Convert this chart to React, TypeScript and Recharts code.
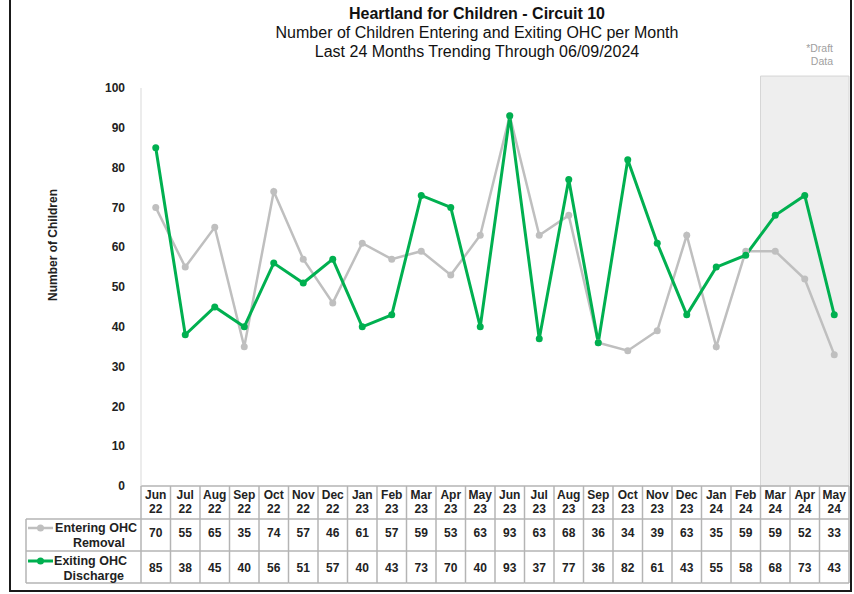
import { LineChart, Line, XAxis, YAxis, ReferenceArea } from "recharts"

const months = [
  "Jun 22", "Jul 22", "Aug 22", "Sep 22", "Oct 22", "Nov 22", "Dec 22", "Jan 23",
  "Feb 23", "Mar 23", "Apr 23", "May 23", "Jun 23", "Jul 23", "Aug 23", "Sep 23",
  "Oct 23", "Nov 23", "Dec 23", "Jan 24", "Feb 24", "Mar 24", "Apr 24", "May 24",
]
const entering = [70, 55, 65, 35, 74, 57, 46, 61, 57, 59, 53, 63, 93, 63, 68, 36, 34, 39, 63, 35, 59, 59, 52, 33]
const exiting = [85, 38, 45, 40, 56, 51, 57, 40, 43, 73, 70, 40, 93, 37, 77, 36, 82, 61, 43, 55, 58, 68, 73, 43]
const yTicks = [0, 10, 20, 30, 40, 50, 60, 70, 80, 90, 100]
const draftFrom = "Mar 24"
const draftTo = "May 24"

const data = months.map((m, i) => ({ month: m, entering: entering[i], exiting: exiting[i] }))

const W = 854
const H = 594
const PLOT_LEFT = 141
const PLOT_RIGHT = 849
const PLOT_TOP = 88
const PLOT_BOTTOM = 486
const TABLE_BOTTOM = 583
const ROW1_TOP = 519
const ROW2_TOP = 551
const LABEL_LEFT = 26
const BAND = (PLOT_RIGHT - PLOT_LEFT) / months.length

const FONT = "'Liberation Sans', Arial, sans-serif"
const GRID = "#b4b4b4"
const GRAY = "#bfbfbf"
const GREEN = "#00b050"

function ColumnTick(props: any) {
  const { x, payload } = props
  const i = payload.index
  const [mon, yr] = String(payload.value).split(" ")
  const l = x - BAND / 2
  const r = x + BAND / 2
  return (
    <g fontFamily={FONT} fontWeight="bold" fontSize={12} fill="#222">
      {i === 0 && <line x1={l} x2={l} y1={PLOT_BOTTOM} y2={TABLE_BOTTOM} stroke={GRID} strokeWidth={1.5} />}
      <line x1={r} x2={r} y1={PLOT_BOTTOM} y2={TABLE_BOTTOM} stroke={GRID} strokeWidth={1.5} />
      <line x1={l} x2={r} y1={ROW1_TOP} y2={ROW1_TOP} stroke={GRID} strokeWidth={1.5} />
      <line x1={l} x2={r} y1={ROW2_TOP} y2={ROW2_TOP} stroke={GRID} strokeWidth={1.5} />
      <line x1={l} x2={r} y1={TABLE_BOTTOM} y2={TABLE_BOTTOM} stroke={GRID} strokeWidth={1.5} />
      <text x={x} y={499} textAnchor="middle">{mon}</text>
      <text x={x} y={513} textAnchor="middle">{yr}</text>
      <text x={x} y={537} textAnchor="middle">{entering[i]}</text>
      <text x={x} y={572} textAnchor="middle">{exiting[i]}</text>
    </g>
  )
}

function DraftLabel(props: any) {
  const vb = props.viewBox || {}
  const right = (vb.x ?? 0) + (vb.width ?? 0) - 16
  const top = vb.y ?? 0
  return (
    <g fontFamily={FONT} fontSize={10.5} fill="#a0a0a0" textAnchor="end">
      <text x={right} y={top - 24}>*Draft</text>
      <text x={right} y={top - 11}>Data</text>
    </g>
  )
}

export default function App() {
  return (
    <div style={{ position: "absolute", left: 0, top: 0, width: W, height: H, background: "#fff" }}>
      <div
        style={{
          position: "absolute",
          left: 9,
          top: -4,
          width: 843,
          height: 596,
          boxSizing: "border-box",
          border: "2px solid #1a1a1a",
        }}
      />
      <div style={{ position: "absolute", left: 0, top: 0 }}>
        <LineChart
          width={W}
          height={H}
          data={data}
          margin={{ top: PLOT_TOP, right: W - PLOT_RIGHT, bottom: H - TABLE_BOTTOM, left: 60 }}
        >
          <text x={477} y={19} textAnchor="middle" fontFamily={FONT} fontWeight="bold" fontSize={16} fill="#111">
            Heartland for Children - Circuit 10
          </text>
          <text x={477} y={38} textAnchor="middle" fontFamily={FONT} fontSize={16} fill="#111">
            Number of Children Entering and Exiting OHC per Month
          </text>
          <text x={477} y={57} textAnchor="middle" fontFamily={FONT} fontSize={16} fill="#111">
            Last 24 Months Trending Through 06/09/2024
          </text>
          <ReferenceArea
            x1={draftFrom}
            x2={draftTo}
            y1={0}
            y2={103}
            ifOverflow="visible"
            fill="#eeeeee"
            fillOpacity={1}
            stroke="#d6d6d6"
            label={<DraftLabel />}
          />
          <XAxis
            dataKey="month"
            scale="band"
            height={TABLE_BOTTOM - PLOT_BOTTOM}
            axisLine={{ stroke: GRID, strokeWidth: 1.5 }}
            tickLine={false}
            interval={0}
            tick={<ColumnTick />}
          />
          <YAxis
            width={PLOT_LEFT - 60}
            domain={[0, 100]}
            ticks={yTicks}
            allowDataOverflow
            axisLine={{ stroke: "#d9d9d9" }}
            tickLine={false}
            tickMargin={10}
            tick={{ fontFamily: FONT, fontWeight: "bold", fontSize: 12, fill: "#222" }}
          />
          <text
            x={57}
            y={245}
            transform="rotate(-90 57 245)"
            textAnchor="middle"
            fontFamily={FONT}
            fontWeight="bold"
            fontSize={12}
            fill="#222"
          >
            Number of Children
          </text>
          <Line
            dataKey="entering"
            name="Entering OHC Removal"
            stroke={GRAY}
            strokeWidth={2.5}
            dot={{ r: 3.5, fill: GRAY, stroke: GRAY, strokeWidth: 0 }}
            isAnimationActive={false}
          />
          <Line
            dataKey="exiting"
            name="Exiting OHC Discharge"
            stroke={GREEN}
            strokeWidth={3}
            dot={{ r: 3.5, fill: GREEN, stroke: GREEN, strokeWidth: 0 }}
            isAnimationActive={false}
          />
          <g fontFamily={FONT} fontWeight="bold" fontSize={12.5} fill="#222">
            <line x1={LABEL_LEFT} x2={PLOT_LEFT} y1={ROW1_TOP} y2={ROW1_TOP} stroke={GRID} strokeWidth={1.5} />
            <line x1={LABEL_LEFT} x2={PLOT_LEFT} y1={ROW2_TOP} y2={ROW2_TOP} stroke={GRID} strokeWidth={1.5} />
            <line x1={LABEL_LEFT} x2={PLOT_LEFT} y1={TABLE_BOTTOM} y2={TABLE_BOTTOM} stroke={GRID} strokeWidth={1.5} />
            <line x1={LABEL_LEFT} x2={LABEL_LEFT} y1={ROW1_TOP} y2={TABLE_BOTTOM} stroke={GRID} strokeWidth={1.5} />
            <line x1={28} x2={53} y1={528} y2={528} stroke={GRAY} strokeWidth={2.5} />
            <circle cx={40.5} cy={528} r={3.5} fill={GRAY} />
            <line x1={28} x2={53} y1={561} y2={561} stroke={GREEN} strokeWidth={3} />
            <circle cx={40.5} cy={561} r={3.5} fill={GREEN} />
            <text x={137} y={532} textAnchor="end">Entering OHC</text>
            <text x={125} y={547} textAnchor="end">Removal</text>
            <text x={127} y={565} textAnchor="end">Exiting OHC</text>
            <text x={124} y={580} textAnchor="end">Discharge</text>
          </g>
        </LineChart>
      </div>
    </div>
  )
}
